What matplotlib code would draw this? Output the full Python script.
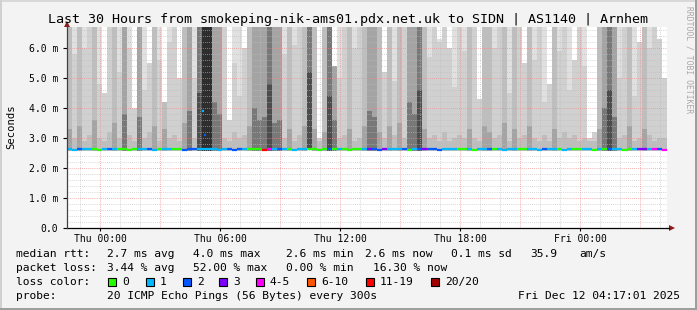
import matplotlib
matplotlib.use("Agg")
import matplotlib.pyplot as plt
import numpy as np
from matplotlib.patches import Rectangle, Polygon

# ---------------- data ----------------
title = "Last 30 Hours from smokeping-nik-ams01.pdx.net.uk to SIDN | AS1140 | Arnhem"
start_hour = -1.65      # hours relative to Thu 00:00
step_hours = 0.25
x_tick_hours = [0, 6, 12, 18, 24]
x_tick_labels = ["Thu 00:00", "Thu 06:00", "Thu 12:00", "Thu 18:00", "Fri 00:00"]
y_ticks = [0, 1, 2, 3, 4, 5, 6]
y_tick_labels = ["0.0", "1.0 m", "2.0 m", "3.0 m", "4.0 m", "5.0 m", "6.0 m"]

# darkness of smoke per column (1 light .. 5 darkest)
shade_level = [
    2, 1, 2, 1, 1, 2, 1, 1, 1, 2,
    1, 3, 1, 1, 3, 1, 1, 2, 1, 2,
    1, 1, 1, 2, 3, 1, 4, 5, 5, 3,
    3, 1, 1, 1, 1, 1, 2, 3, 3, 3,
    4, 3, 3, 1, 2, 1, 1, 2, 4, 2,
    1, 2, 4, 3, 1, 1, 2, 1, 1, 2,
    3, 3, 2, 1, 2, 1, 2, 1, 3, 3,
    4, 2, 1, 1, 1, 1, 1, 1, 1, 1,
    2, 1, 1, 2, 2, 1, 1, 2, 1, 2,
    1, 1, 2, 1, 1, 1, 1, 2, 1, 1,
    1, 1, 1, 1, 1, 1, 2, 3, 4, 3,
    1, 1, 2, 1, 1, 2, 1, 1, 1, 1,
]
# top of smoke (ms)
smoke_top = [
    6.7, 6.7, 6.7, 6.7, 6.7, 6.7, 6.7, 4.5, 6.7, 6.7,
    6.7, 6.7, 6.7, 4.0, 6.7, 6.7, 5.5, 6.7, 6.7, 4.2,
    6.7, 6.7, 5.0, 6.7, 6.7, 6.7, 6.7, 6.7, 6.7, 6.7,
    6.7, 6.7, 3.6, 6.7, 6.7, 6.0, 6.7, 6.7, 6.7, 6.7,
    6.7, 6.7, 6.7, 6.7, 6.7, 6.7, 6.7, 6.7, 6.7, 6.7,
    3.0, 6.7, 6.7, 5.4, 6.7, 6.7, 6.7, 6.7, 6.7, 6.7,
    6.7, 6.7, 6.7, 5.2, 6.7, 6.7, 6.7, 6.7, 6.7, 6.7,
    6.7, 6.7, 6.7, 6.7, 6.3, 6.7, 6.0, 6.7, 6.7, 6.7,
    6.7, 6.7, 4.3, 6.7, 6.7, 6.7, 6.7, 6.7, 6.7, 6.7,
    6.7, 5.5, 6.7, 6.7, 6.7, 6.7, 4.8, 6.7, 6.7, 6.7,
    6.7, 5.6, 6.7, 6.7, 3.0, 3.2, 6.7, 6.7, 6.7, 6.7,
    6.7, 6.7, 6.7, 6.7, 6.2, 6.7, 6.7, 6.7, 6.3, 5.0,
]
# top of the main smoke band (ms); above it the smoke is lighter
smoke_mid = [
    6.7, 5.8, 6.7, 6.0, 6.7, 6.7, 4.8, 4.5, 6.7, 6.7,
    5.2, 6.7, 6.0, 4.0, 6.7, 4.6, 5.5, 6.7, 5.6, 4.2,
    6.2, 6.7, 5.0, 6.7, 6.7, 5.0, 6.7, 6.7, 6.7, 6.7,
    6.7, 6.7, 3.6, 5.5, 4.4, 6.0, 6.7, 6.7, 6.7, 6.7,
    6.7, 6.7, 6.7, 5.8, 6.7, 6.1, 6.7, 6.7, 6.7, 6.7,
    3.0, 6.7, 6.7, 5.4, 5.0, 6.7, 6.7, 6.0, 6.7, 6.7,
    6.7, 6.7, 6.7, 5.2, 6.7, 4.9, 6.7, 6.7, 6.7, 6.7,
    6.7, 6.7, 5.7, 6.7, 6.2, 6.7, 6.0, 4.7, 6.7, 5.9,
    6.7, 6.7, 4.3, 6.7, 6.7, 6.0, 6.7, 6.7, 4.5, 6.7,
    6.7, 5.5, 6.7, 5.6, 6.7, 4.2, 4.8, 6.7, 5.9, 6.7,
    4.6, 5.6, 6.7, 5.4, 3.0, 3.2, 6.7, 6.7, 6.7, 6.7,
    5.0, 6.7, 6.7, 4.4, 6.2, 6.7, 6.0, 6.7, 6.3, 5.0,
]
# top of the dark core just above the median (ms)
smoke_core = [
    3.3, 3.0, 3.4, 2.9, 3.1, 3.6, 3.0, 2.9, 3.2, 3.5,
    3.0, 3.8, 3.1, 2.9, 3.7, 3.0, 3.2, 3.4, 2.9, 3.3,
    3.0, 3.1, 2.9, 3.5, 3.9, 3.0, 4.5, 6.7, 6.7, 4.2,
    3.8, 3.0, 2.9, 3.2, 3.0, 3.1, 3.4, 4.0, 3.6, 3.7,
    4.8, 3.5, 3.6, 3.0, 3.3, 2.9, 3.1, 3.4, 5.2, 3.3,
    2.9, 3.2, 4.4, 3.6, 3.0, 3.1, 3.3, 2.9, 3.0, 3.4,
    3.9, 3.7, 3.2, 3.0, 3.4, 3.1, 3.5, 3.0, 4.2, 3.8,
    4.6, 3.3, 3.0, 3.1, 2.9, 3.2, 2.9, 3.0, 3.1, 3.0,
    3.3, 3.0, 2.9, 3.4, 3.2, 3.0, 3.1, 3.5, 2.9, 3.3,
    3.0, 3.1, 3.4, 3.0, 2.9, 3.1, 2.9, 3.3, 3.0, 3.2,
    3.0, 3.1, 2.9, 3.0, 2.9, 2.9, 3.3, 4.0, 4.6, 3.7,
    3.0, 3.1, 3.4, 2.9, 3.0, 3.3, 3.1, 2.9, 3.0, 3.0,
]
# median rtt (ms)
median_rtt = [
    2.62, 2.61, 2.62, 2.63, 2.62, 2.62, 2.61, 2.62, 2.62, 2.63,
    2.62, 2.62, 2.61, 2.62, 2.63, 2.62, 2.62, 2.61, 2.62, 2.62,
    2.62, 2.63, 2.62, 2.61, 2.62, 2.62, 2.62, 2.63, 2.62, 2.62,
    2.61, 2.62, 2.62, 2.61, 2.62, 2.62, 2.63, 2.62, 2.62, 2.61,
    2.62, 2.62, 2.62, 2.63, 2.62, 2.61, 2.62, 2.62, 2.64, 2.62,
    2.61, 2.62, 2.62, 2.62, 2.63, 2.62, 2.61, 2.62, 2.62, 2.63,
    2.62, 2.62, 2.61, 2.62, 2.63, 2.62, 2.62, 2.62, 2.61, 2.62,
    2.62, 2.63, 2.62, 2.62, 2.61, 2.62, 2.62, 2.63, 2.62, 2.62,
    2.62, 2.61, 2.62, 2.63, 2.62, 2.62, 2.62, 2.61, 2.62, 2.62,
    2.63, 2.62, 2.62, 2.62, 2.61, 2.62, 2.62, 2.63, 2.62, 2.61,
    2.62, 2.62, 2.63, 2.62, 2.62, 2.61, 2.62, 2.62, 2.62, 2.63,
    2.62, 2.61, 2.62, 2.62, 2.62, 2.62, 2.63, 2.62, 2.62, 2.61,
]
# loss class index (0: 0, 1: 1, 2: 2, 3: 3, 4: 4-5, 5: 6-10, 6: 11-19, 7: 20/20)
loss_class = [
    1, 1, 2, 1, 1, 0, 0, 1, 2, 1,
    0, 0, 0, 0, 1, 1, 2, 1, 0, 1,
    1, 0, 0, 2, 2, 2, 1, 1, 1, 1,
    1, 1, 2, 2, 2, 1, 0, 0, 0, 6,
    4, 1, 2, 1, 0, 1, 1, 1, 0, 0,
    0, 0, 2, 0, 1, 0, 0, 0, 0, 1,
    3, 2, 2, 3, 1, 1, 1, 2, 0, 1,
    2, 3, 2, 2, 2, 1, 1, 1, 0, 0,
    1, 0, 1, 1, 2, 0, 1, 1, 1, 1,
    0, 0, 1, 1, 1, 2, 1, 1, 0, 1,
    1, 0, 0, 1, 1, 0, 1, 0, 2, 1,
    1, 0, 0, 1, 3, 3, 1, 4, 2, 4,
]
spike_hours = [5.15, 5.25]
spike_rtt = [3.9, 3.1]
spike_loss = [1, 2]

loss_colors = ["#26ff00", "#00b8ff", "#0059ff", "#7e00ff", "#ff00ff", "#ff5500", "#ff0000", "#a10000"]
loss_labels = ["0", "1", "2", "3", "4-5", "6-10", "11-19", "20/20"]

legend_rtt = ["2.7 ms avg", "4.0 ms max", "2.6 ms min", "2.6 ms now", "0.1 ms sd", "35.9", "am/s"]
legend_loss = ["3.44 % avg", "52.00 % max", "0.00 % min", "16.30 % now"]
probe_text = "20 ICMP Echo Pings (56 Bytes) every 300s"
date_text = "Fri Dec 12 04:17:01 2025"

# ---------------- drawing ----------------
W, H = 697, 310
MONO = "DejaVu Sans Mono"
fig = plt.figure(figsize=(W / 100, H / 100), dpi=100, facecolor="#f3f3f3")

def fx(x):
    return x / W

def fy(y):
    return 1 - y / H

def ftext(x, y, s, **kw):
    kw.setdefault("family", MONO)
    kw.setdefault("fontsize", 8.1)
    kw.setdefault("va", "center")
    fig.text(fx(x), fy(y), s, **kw)

# frame of the image
fig.add_artist(Rectangle((0, fy(2)), fx(W), 2 / H, transform=fig.transFigure, color="#d8d8d8", lw=0))
fig.add_artist(Rectangle((0, 0), fx(2), 1, transform=fig.transFigure, color="#d0d0d0", lw=0))
fig.add_artist(Rectangle((0, 0), 1, 2 / H, transform=fig.transFigure, color="#9e9e9e", lw=0))
fig.add_artist(Rectangle((fx(W - 2), 0), fx(2), 1, transform=fig.transFigure, color="#9e9e9e", lw=0))

L, R, T, B = 67, 667, 27, 228
ax = fig.add_axes([fx(L), fy(B), (R - L) / W, (B - T) / H])
ax.set_facecolor("white")
n = len(shade_level)
x_start = start_hour + step_hours * np.arange(n)
ax.set_xlim(start_hour, start_hour + step_hours * n)
ax.set_ylim(0, 6.7)

ladder = ["#e0e0e0", "#d0d0d0", "#bebebe", "#a4a4a4", "#787878", "#4c4c4c", "#2e2e2e"]
med = np.array(median_rtt)
top = np.array(smoke_top)
mid = np.minimum(np.array(smoke_mid), top)
core = np.minimum(np.array(smoke_core), mid)
lvl = np.array(shade_level)
base = med - 0.05
ax.bar(x_start, top - base, bottom=base, width=step_hours, align="edge",
       color=[ladder[c - 1] for c in lvl], lw=0, zorder=1)
ax.bar(x_start, mid - base, bottom=base, width=step_hours, align="edge",
       color=[ladder[c] for c in lvl], lw=0, zorder=1.1)
ax.bar(x_start, core - base, bottom=base, width=step_hours, align="edge",
       color=[ladder[c + 1] for c in lvl], lw=0, zorder=1.2)

# grid
for v in np.arange(0.2, 6.7, 0.2):
    if abs(v - round(v)) > 1e-6:
        ax.axhline(v, color="#bdbdbd", lw=0.6, ls=(0, (1, 1.5)), zorder=2, alpha=0.8)
for h in np.arange(-1, 29, 1):
    if h % 3 != 0:
        ax.axvline(h, color="#bdbdbd", lw=0.6, ls=(0, (1, 1.5)), zorder=2, alpha=0.8)
for v in range(1, 7):
    ax.axhline(v, color="#f08a8a", lw=0.6, ls=(0, (1, 1.5)), zorder=2.1, alpha=0.9)
for h in range(0, 29, 3):
    ax.axvline(h, color="#f08a8a", lw=0.6, ls=(0, (1, 1.5)), zorder=2.1, alpha=0.9)

# median line
ax.hlines(med, x_start, x_start + step_hours, colors=[loss_colors[c] for c in loss_class],
          lw=1.6, zorder=3)
ax.hlines(spike_rtt, np.array(spike_hours) - 0.05, np.array(spike_hours) + 0.05,
          colors=[loss_colors[c] for c in spike_loss], lw=1.6, zorder=3)

for s in ax.spines.values():
    s.set_visible(False)
ax.set_xticks(x_tick_hours)
ax.set_xticklabels(x_tick_labels, family=MONO, fontsize=7.05)
ax.set_yticks(y_ticks)
ax.set_yticklabels(y_tick_labels, family=MONO, fontsize=7.05)
ax.tick_params(axis="x", length=2, width=0.8, pad=2.5, color="black")
ax.tick_params(axis="y", length=3, width=0.8, pad=3.5, color="black")

# axis lines with arrows
fig.add_artist(plt.Line2D([fx(L), fx(669)], [fy(B), fy(B)], transform=fig.transFigure, color="black", lw=0.9))
fig.add_artist(plt.Line2D([fx(L), fx(L)], [fy(B), fy(25)], transform=fig.transFigure, color="#404040", lw=0.9))
fig.add_artist(Polygon([[fx(669), fy(B - 3)], [fx(675), fy(B)], [fx(669), fy(B + 3)]],
                       closed=True, transform=fig.transFigure, color="#8c1c1c", lw=0))
fig.add_artist(Polygon([[fx(L - 3), fy(27)], [fx(L), fy(21)], [fx(L + 3), fy(27)]],
                       closed=True, transform=fig.transFigure, color="#8c1c1c", lw=0))

# title and labels
ftext(348, 19, title, ha="center", fontsize=9.6)
ftext(11, 127, "Seconds", ha="center", rotation=90, fontsize=7.6)
ftext(689, 60, "RRDTOOL / TOBI OETIKER", ha="center", rotation=270, fontsize=5.8, color="#a8a8a8")

# legend
ftext(16, 254, "median rtt:")
for s, x in zip(legend_rtt, [107, 193, 286, 365, 451, 530, 579]):
    ftext(x, 254, s)
ftext(16, 268, "packet loss:")
for s, x in zip(legend_loss, [107, 193, 286, 373]):
    ftext(x, 268, s)
ftext(16, 282, "loss color:")
box_x = [108, 146, 183, 219, 256, 307, 366, 431]
for c, lab, x in zip(loss_colors, loss_labels, box_x):
    fig.add_artist(Rectangle((fx(x), fy(286)), 8 / W, 8 / H, transform=fig.transFigure,
                             facecolor=c, edgecolor="black", lw=0.8))
    ftext(x + 14, 282, lab)
ftext(16, 296, "probe:")
ftext(107, 296, probe_text)
ftext(680, 296, date_text, ha="right")

fig.savefig("out.png", dpi=100, facecolor=fig.get_facecolor())
